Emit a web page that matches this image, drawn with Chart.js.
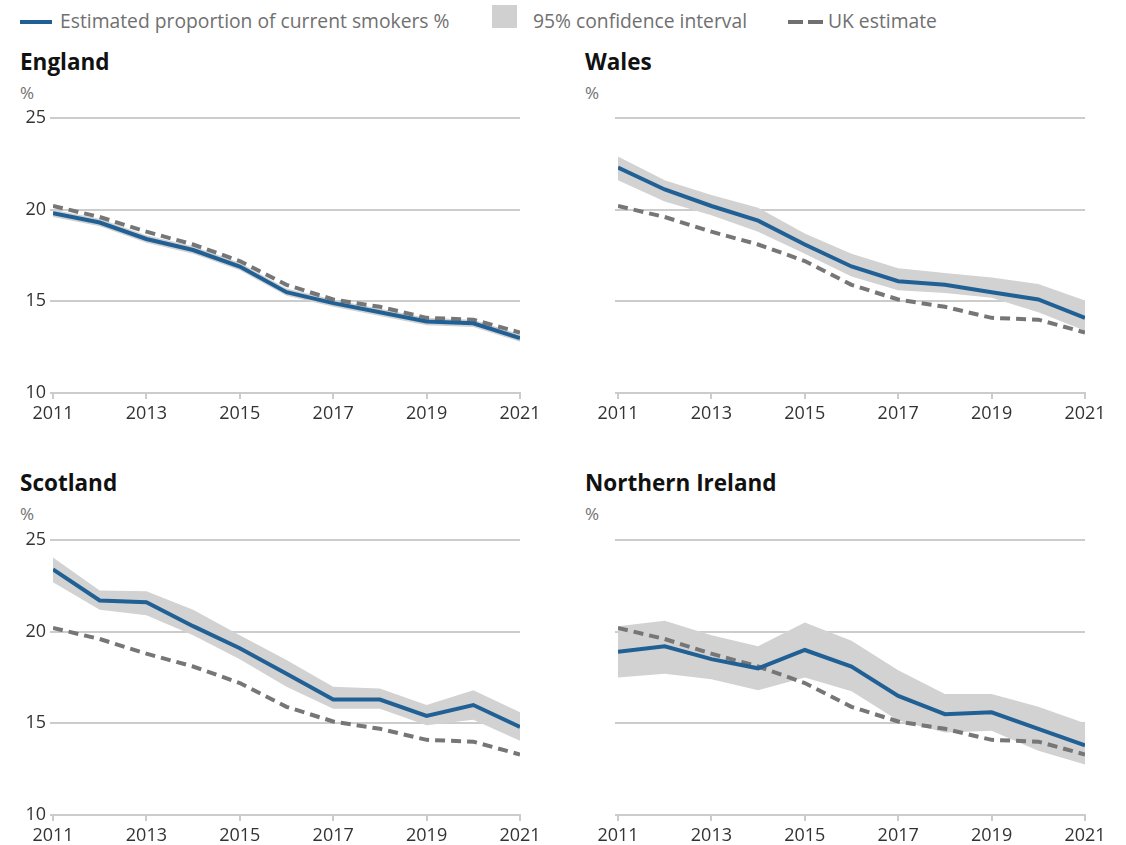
<!DOCTYPE html>
<html>
<head>
<meta charset="utf-8">
<script src="https://cdn.jsdelivr.net/npm/chart.js@4"></script>
<style>
  body { margin: 0; background: #fff; font-family: "Open Sans", sans-serif; }
  .wrap { position: relative; width: 1126px; height: 845px; }
  .abs { position: absolute; }
  .legtxt { font-size: 19.3px; color: #707070; line-height: 22px; white-space: nowrap; }
  .title { font-size: 22.5px; font-weight: 700; color: #111; line-height: 28px; }
  .unit { font-size: 17px; color: #707070; line-height: 20px; }
  canvas { display: block; }
</style>
</head>
<body>
<div class="wrap">
  <div class="abs" style="left:20px;top:20px;width:32px;height:4px;background:#206095"></div>
  <div class="abs legtxt" style="left:60px;top:10px">Estimated proportion of current smokers %</div>
  <div class="abs" style="left:492px;top:5px;width:25px;height:23px;background:#d0d0d0"></div>
  <div class="abs legtxt" style="left:533px;top:10px">95% confidence interval</div>
  <div class="abs" style="left:788px;top:20px;width:15px;height:4px;background:#707070"></div>
  <div class="abs" style="left:808px;top:20px;width:15px;height:4px;background:#707070"></div>
  <div class="abs legtxt" style="left:828px;top:10px">UK estimate</div>

  <div class="abs title" style="left:20px;top:48px">England</div>
  <div class="abs unit" style="left:20px;top:83px">%</div>
  <div class="abs title" style="left:585px;top:48px">Wales</div>
  <div class="abs unit" style="left:585px;top:83px">%</div>
  <div class="abs title" style="left:20px;top:469px">Scotland</div>
  <div class="abs unit" style="left:20px;top:504px">%</div>
  <div class="abs title" style="left:585px;top:469px">Northern Ireland</div>
  <div class="abs unit" style="left:585px;top:504px">%</div>

  <div class="abs" style="left:0;top:100px;width:560px;height:330px"><canvas id="chart1"></canvas></div>
  <div class="abs" style="left:565px;top:100px;width:560px;height:330px"><canvas id="chart2"></canvas></div>
  <div class="abs" style="left:0;top:522px;width:560px;height:330px"><canvas id="chart3"></canvas></div>
  <div class="abs" style="left:565px;top:522px;width:560px;height:330px"><canvas id="chart4"></canvas></div>
</div>
<script>
const years = [2011, 2012, 2013, 2014, 2015, 2016, 2017, 2018, 2019, 2020, 2021];
const yTicks = [10, 15, 20, 25];

const ukEstimate = [20.2, 19.6, 18.8, 18.1, 17.2, 15.9, 15.1, 14.7, 14.1, 14.0, 13.3];

const englandEst = [19.8, 19.3, 18.4, 17.8, 16.9, 15.5, 14.9, 14.4, 13.9, 13.8, 13.0];
const englandUpper = [20.0, 19.5, 18.6, 18.0, 17.1, 15.7, 15.1, 14.6, 14.1, 14.0, 13.2];
const englandLower = [19.6, 19.1, 18.2, 17.6, 16.7, 15.3, 14.7, 14.2, 13.7, 13.6, 12.8];

const walesEst = [22.3, 21.1, 20.2, 19.4, 18.1, 16.9, 16.1, 15.9, 15.5, 15.1, 14.1];
const walesUpper = [22.9, 21.6, 20.8, 20.1, 18.7, 17.6, 16.8, 16.55, 16.3, 15.95, 15.05];
const walesLower = [21.6, 20.45, 19.7, 18.8, 17.6, 16.35, 15.6, 15.45, 15.2, 14.4, 13.4];

const scotlandEst = [23.4, 21.7, 21.6, 20.3, 19.1, 17.7, 16.3, 16.3, 15.4, 16.0, 14.8];
const scotlandUpper = [24.05, 22.25, 22.2, 21.2, 19.8, 18.45, 17.0, 16.9, 16.0, 16.8, 15.6];
const scotlandLower = [22.7, 21.2, 20.9, 19.8, 18.5, 17.0, 15.8, 15.8, 14.9, 15.2, 14.05];

const niEst = [18.9, 19.2, 18.5, 18.0, 19.0, 18.1, 16.5, 15.5, 15.6, 14.7, 13.8];
const niUpper = [20.3, 20.6, 19.8, 19.2, 20.5, 19.5, 17.9, 16.6, 16.6, 15.9, 15.0];
const niLower = [17.5, 17.7, 17.4, 16.8, 17.5, 16.75, 15.15, 14.5, 14.6, 13.5, 12.75];

const panels = [
    { id: 'chart1', est: englandEst, upper: englandUpper, lower: englandLower, yLabels: true },
    { id: 'chart2', est: walesEst, upper: walesUpper, lower: walesLower, yLabels: false },
    { id: 'chart3', est: scotlandEst, upper: scotlandUpper, lower: scotlandLower, yLabels: true },
    { id: 'chart4', est: niEst, upper: niUpper, lower: niLower, yLabels: false }
];

const pts = arr => arr.map((v, i) => ({ x: years[i], y: v }));

for (const p of panels) {
    const ctx = document.getElementById(p.id);
    new Chart(ctx, {
        type: 'line',
        data: {
            datasets: [
                {
                    label: 'Estimated proportion of current smokers %',
                    data: pts(p.est),
                    borderColor: '#206095',
                    borderWidth: 4,
                    pointRadius: 0,
                    fill: false,
                    tension: 0
                },
                {
                    label: 'UK estimate',
                    data: pts(ukEstimate),
                    borderColor: '#767676',
                    borderWidth: 4,
                    borderDash: [10, 6],
                    pointRadius: 0,
                    fill: false,
                    tension: 0
                },
                {
                    label: 'upper',
                    data: pts(p.upper),
                    borderWidth: 0,
                    borderColor: 'rgba(0,0,0,0)',
                    backgroundColor: '#d2d2d2',
                    pointRadius: 0,
                    fill: '+1',
                    tension: 0
                },
                {
                    label: 'lower',
                    data: pts(p.lower),
                    borderWidth: 0,
                    borderColor: 'rgba(0,0,0,0)',
                    pointRadius: 0,
                    fill: false,
                    tension: 0
                }
            ]
        },
        options: {
            responsive: true,
            maintainAspectRatio: false,
            animation: false,
            events: [],
            layout: { padding: { top: 18, right: 40, left: 0, bottom: 0 } },
            plugins: {
                legend: { display: false },
                tooltip: { enabled: false }
            },
            scales: {
                x: {
                    type: 'linear',
                    min: 2011,
                    max: 2021,
                    border: { color: '#cccccc', width: 2 },
                    grid: {
                        drawOnChartArea: false,
                        color: '#cccccc',
                        lineWidth: 2,
                        tickLength: 6
                    },
                    ticks: {
                        stepSize: 2,
                        padding: 4,
                        color: '#333333',
                        font: { family: 'Open Sans', size: 18 },
                        maxRotation: 0,
                        callback: v => String(v)
                    },
                    afterFit: s => { s.height = 37; }
                },
                y: {
                    min: 10,
                    max: 25,
                    border: { display: false },
                    afterBuildTicks: s => { s.ticks = yTicks.map(v => ({ value: v })); },
                    grid: {
                        color: '#cccccc',
                        lineWidth: 2,
                        tickLength: 3
                    },
                    ticks: {
                        display: p.yLabels,
                        padding: 4,
                        color: '#333333',
                        font: { family: 'Open Sans', size: 18 }
                    },
                    afterFit: s => { s.width = 53; }
                }
            }
        }
    });
}
</script>
</body>
</html>
